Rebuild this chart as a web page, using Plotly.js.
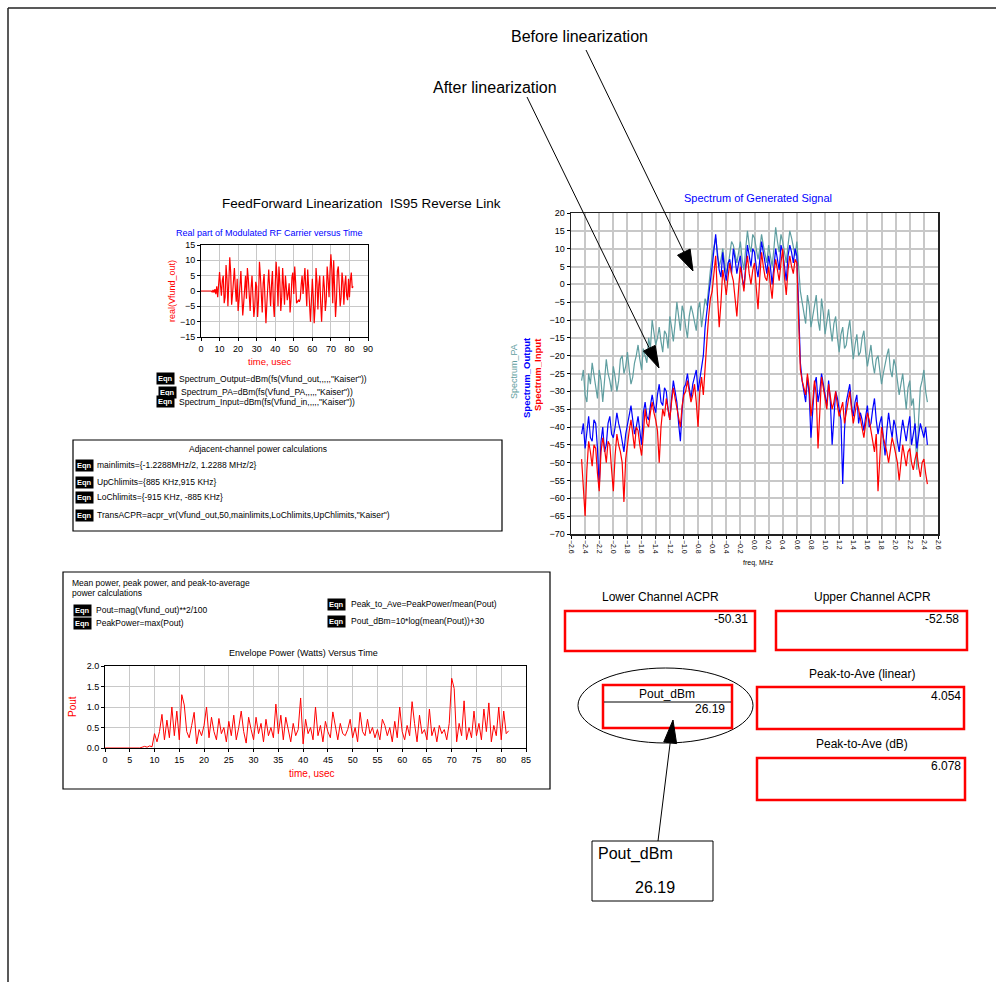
<!DOCTYPE html>
<html><head><meta charset="utf-8">
<script src="https://cdn.plot.ly/plotly-3.0.1.min.js"></script>
<style>html,body{margin:0;padding:0;background:#fff;}#chart{width:996px;height:982px;}</style>
</head><body><div id="chart"></div>
<script>
// ---------- DATA ----------
const realTimeStart = 0, realTimeStep = 0.5;   // usec
const realPart = [
 0,0,0,0,0,0,0,0,0,0,
 0,0,-0.3,0.3,-0.5,0.6,-1.0,1.5,-2.0,2.5,
 6.2,2.0,-1.5,3.5,5.0,-4.0,-2.0,8.5,4.0,-5.0,
 2.0,11.0,6.0,-4.5,-1.0,5.5,7.5,1.0,-3.5,4.0,
 -6.5,-3.0,2.0,6.5,-1.0,-8.0,-4.0,3.0,5.0,-2.5,
 7.5,4.0,-3.0,-6.5,1.0,5.0,-2.0,-8.5,-5.0,3.0,
 1.5,-8.5,-3.0,9.5,5.0,-4.0,-7.0,2.5,5.5,-3.0,
 -10.5,-4.0,4.0,7.0,1.0,-5.0,2.0,6.5,-4.0,-8.5,
 2.0,9.5,4.0,-5.0,8.0,3.0,-6.5,-2.0,7.5,1.0,
 -4.5,5.0,2.0,-3.0,-1.0,2.5,-7.0,-3.0,4.5,6.0,
 -1.0,8.0,3.0,-4.0,-3.5,-3.0,-3.5,-2.5,2.0,5.0,
 -1.0,4.0,7.5,1.0,-5.0,7.0,2.0,-6.0,-10.0,-3.0,
 4.0,-2.0,-10.5,-5.0,7.5,3.0,-6.0,2.0,5.0,-4.0,
 -10.0,-2.0,5.0,1.0,-6.5,-3.0,8.0,4.0,-2.0,6.0,
 12.0,7.0,-4.0,10.0,2.0,-8.5,-3.0,6.5,8.0,1.0,
 -5.0,-2.0,6.0,3.0,-4.5,2.0,5.0,-1.5,-3.0,4.0,
 -2.0,3.5,6.0,1.0,1.5
];
const poutTimeStart = 0, poutTimeStep = 0.5;   // usec
const poutWatts = [
 0,0,0,0,0,0,0,0,0,0,
 0,0,0,0.01,0,0.02,0.04,0.02,0.05,0.03,
 0.35,0.15,0.4,0.82,0.2,0.68,0.25,1.0,0.3,0.9,
 0.2,1.3,1.05,0.4,0.25,0.55,0.87,0.1,0.45,0.3,
 0.55,1.0,0.25,0.75,0.4,0.2,0.72,0.35,0.5,0.15,
 0.65,0.3,0.8,0.2,0.5,0.9,0.4,0.12,0.75,0.45,
 0.2,0.75,0.35,0.6,0.15,0.7,0.3,0.5,0.25,1.07,
 0.35,0.8,0.2,0.75,0.4,0.15,0.6,0.3,0.45,1.22,
 0.1,0.7,0.35,0.5,0.2,1.0,0.3,0.55,0.15,0.65,
 0.4,0.25,0.88,0.5,0.2,0.6,0.35,0.3,0.45,0.7,
 0.25,0.5,0.15,0.87,0.4,0.3,0.7,0.35,0.5,0.25,
 0.45,0.2,0.7,0.55,0.3,0.5,0.15,0.65,0.25,1.0,
 0.4,0.2,0.55,0.3,1.13,0.6,0.15,0.8,0.35,0.45,
 0.2,0.95,0.3,0.5,0.15,0.55,0.35,0.45,0.2,0.6,
 1.7,1.45,0.15,0.6,0.3,1.15,0.2,0.5,0.25,0.9,
 0.3,0.6,0.2,0.95,0.4,1.1,0.15,0.55,0.3,1.0,
 0.2,0.9,0.35,0.42
];
const freqStart = -2.45, freqStep = 0.025;     // MHz
const spectrumPA = [
 -27,-24,-31,-33,-25,-28,-22,-25,-29,-32,-24,-27,-33,-26,-21,-25,-27,-30,-23,-26,
 -30,-27,-21,-20,-25,-23,-19,-24,-28,-26,-22,-20,-17,-21,-24,-18,-20,-22,-15,-18,
 -10,-14,-17,-15,-12,-16,-19,-13,-14,-18,-9,-12,-16,-11,-5,-9,-13,-6,-8,-12,
 -15,-9,-6,-8,-11,-13,-7,-5,-12,-8,-4,-6,0,4,8,11,13,9,5,7,
 10,6,3,5,8,12,11,8,6,9,12,7,4,10,15,11,9,14,13,10,
 7,10,14,11,8,6,11,8,5,10,16,12,9,14,12,9,6,11,15,13,
 10,8,12,6,-2,-5,-8,-11,-3,-6,-12,-9,-5,-3,-10,-13,-4,-8,-14,-11,
 -7,-12,-16,-11,-9,-15,-19,-14,-12,-18,-17,-13,-10,-16,-21,-17,-14,-20,-19,-15,
 -13,-19,-23,-20,-17,-22,-25,-21,-20,-24,-28,-25,-22,-20,-18,-24,-26,-21,-23,-27,
 -31,-28,-25,-30,-35,-29,-27,-34,-32,-40,-52,-38,-29,-27,-24,-30,-33
];
const spectrumOutput = [
 -42,-39,-46,-41,-37,-43,-44,-38,-39,-46,-57,-44,-40,-47,-45,-39,-37,-42,-43,-40,
 -36,-39,-41,-44,-47,-42,-39,-36,-34,-38,-42,-40,-37,-41,-45,-36,-33,-37,-38,-34,
 -31,-34,-36,-31,-28,-33,-34,-29,-30,-35,-38,-32,-27,-30,-33,-39,-44,-35,-29,-28,
 -25,-29,-32,-28,-26,-24,-30,-27,-24,-20,-12,-7,-3,1,5,10,14,8,4,2,
 9,4,1,6,7,3,10,7,3,6,8,2,-1,5,11,8,5,10,9,5,
 2,7,12,9,6,3,8,5,0,6,10,7,4,11,9,5,1,8,11,9,
 6,10,8,-6,-22,-27,-30,-33,-26,-31,-43,-35,-28,-26,-33,-30,-25,-28,-31,-34,
 -27,-33,-45,-36,-30,-32,-35,-38,-56,-41,-33,-30,-28,-34,-37,-33,-31,-39,-36,-38,
 -41,-37,-34,-40,-39,-35,-32,-38,-42,-39,-37,-43,-48,-41,-36,-40,-43,-38,-40,-44,
 -47,-42,-38,-41,-44,-40,-37,-45,-42,-39,-46,-42,-39,-41,-43,-40,-45
];
const spectrumInput = [
 -49,-57,-65,-52,-44,-47,-51,-45,-46,-53,-58,-47,-43,-46,-50,-44,-45,-52,-58,-48,
 -42,-45,-47,-50,-61,-49,-44,-41,-38,-43,-46,-40,-41,-45,-48,-42,-35,-39,-40,-36,
 -33,-36,-38,-41,-50,-40,-35,-37,-32,-35,-38,-33,-29,-32,-35,-38,-40,-34,-31,-30,
 -27,-30,-33,-31,-28,-33,-40,-30,-26,-31,-22,-16,-9,-4,-2,3,8,-3,-12,-5,
 4,1,-3,2,6,3,1,-4,-9,-1,5,2,-2,4,8,3,0,4,6,-1,
 -7,2,9,5,2,1,5,0,-4,3,7,4,1,6,10,2,-3,4,8,5,
 3,7,6,-10,-24,-27,-29,-31,-25,-29,-37,-33,-27,-31,-46,-34,-26,-29,-32,-35,
 -28,-32,-35,-33,-30,-34,-37,-35,-33,-39,-36,-33,-30,-35,-39,-36,-33,-35,-38,-40,
 -43,-39,-36,-38,-41,-44,-47,-42,-58,-49,-40,-43,-45,-47,-50,-46,-43,-45,-48,-50,
 -55,-49,-45,-48,-51,-47,-46,-50,-52,-49,-47,-51,-54,-50,-49,-53,-56
];
const freqTickVals = [-2.6,-2.4,-2.2,-2.0,-1.8,-1.6,-1.4,-1.2,-1.0,-0.8,-0.6,-0.4,-0.2,0,0.2,0.4,0.6,0.8,1.0,1.2,1.4,1.6,1.8,2.0,2.2,2.4,2.6];
const acprLower = '-50.31', acprUpper = '-52.58';
const poutDbm = '26.19', peakToAveLinear = '4.054', peakToAveDb = '6.078';

// ---------- LAYOUT HELPERS ----------
const W = 996, H = 982;
const F = 'Liberation Sans, Arial, sans-serif';
const X = p => p / W, Y = p => 1 - p / H;
const ann = [], shp = [];
function T(x, y, text, o) {
  o = o || {};
  ann.push(Object.assign({
    xref: 'paper', yref: 'paper', x: X(x), y: Y(y), text: text, showarrow: false,
    xanchor: o.xa || 'left', yanchor: 'middle', textangle: o.angle || 0,
    font: {family: F, size: o.size || 9, color: o.color || '#000'}
  }, o.extra || {}));
}
function EQN(x, y) {
  T(x, y, '<b>Eqn</b>', {size: 7.5, color: '#fff', extra: {bgcolor: '#000', borderpad: 1}});
}
function R(x0, y0, x1, y1, color, width) {
  shp.push({type: 'rect', xref: 'paper', yref: 'paper', x0: X(x0), x1: X(x1), y0: Y(y0), y1: Y(y1),
            line: {color: color, width: width}});
}
function L(x0, y0, x1, y1, color, width) {
  shp.push({type: 'line', xref: 'paper', yref: 'paper', x0: X(x0), x1: X(x1), y0: Y(y0), y1: Y(y1),
            line: {color: color || '#000', width: width || 1}});
}
function ARROW(x0, y0, x1, y1, len, hw) {
  const dx = x1 - x0, dy = y1 - y0, d = Math.hypot(dx, dy), ux = dx / d, uy = dy / d;
  const bx = x1 - ux * len, by = y1 - uy * len;
  L(x0, y0, bx, by, '#000', 1);
  const p = [[x1, y1], [bx - uy * hw, by + ux * hw], [bx + uy * hw, by - ux * hw]];
  shp.push({type: 'path', xref: 'paper', yref: 'paper', fillcolor: '#000', line: {color: '#000', width: 1},
    path: 'M' + p.map(q => X(q[0]) + ',' + Y(q[1])).join(' L') + ' Z'});
}

// page frame
L(8, 8, 996, 8, '#222', 1.5);
L(8, 8, 8, 982, '#222', 1.5);

// top annotations and arrows
T(579, 37, 'Before linearization', {xa: 'center', size: 16});
T(495, 87, 'After linearization', {xa: 'center', size: 16});
ARROW(586, 50, 693, 271, 21, 7);
ARROW(527, 97, 659, 368, 22, 6.5);

// main title and small chart texts
T(361, 204, 'FeedForward Linearization \u00a0IS95 Reverse Link', {xa: 'center', size: 13.5});
T(269, 233, 'Real part of Modulated RF Carrier versus Time', {xa: 'center', size: 9, color: '#0000ff'});
T(172, 291, 'real(Vfund_out)', {xa: 'center', size: 9, color: '#ff0000', angle: -90});
T(270, 362, 'time, usec', {xa: 'center', size: 9.5, color: '#ff0000'});

EQN(156, 379); T(177, 379, 'Spectrum_Output=dBm(fs(Vfund_out,,,,,"Kaiser"))', {size: 8.5});
EQN(158, 392); T(179, 392, 'Spectrum_PA=dBm(fs(Vfund_PA,,,,,"Kaiser"))', {size: 8.5});
EQN(156, 402); T(177, 402, 'Spectrum_Input=dBm(fs(Vfund_in,,,,,"Kaiser"))', {size: 8.5});

// adjacent channel box
R(73, 440, 502, 531, '#000', 1.2);
T(258, 449, 'Adjacent-channel power calculations', {xa: 'center', size: 8.5});
EQN(75, 465); T(95, 465, 'mainlimits={-1.2288MHz/2, 1.2288 MHz/2}', {size: 8.5});
EQN(75, 482); T(95, 482, 'UpChlimits={885 KHz,915 KHz}', {size: 8.5});
EQN(75, 497); T(95, 497, 'LoChlimits={-915 KHz, -885 KHz}', {size: 8.5});
EQN(75, 515); T(95, 515, 'TransACPR=acpr_vr(Vfund_out,50,mainlimits,LoChlimits,UpChlimits,"Kaiser")', {size: 8.5});

// power calc box
R(63, 572, 550, 789, '#000', 1.2);
T(70, 583, 'Mean power, peak power, and peak-to-average', {size: 8.5});
T(70, 593, 'power calculations', {size: 8.5});
EQN(73, 610); T(94, 610, 'Pout=mag(Vfund_out)**2/100', {size: 8.5});
EQN(73, 623); T(94, 623, 'PeakPower=max(Pout)', {size: 8.5});
EQN(327, 604); T(349, 604, 'Peak_to_Ave=PeakPower/mean(Pout)', {size: 8.5});
EQN(327, 621); T(349, 621, 'Pout_dBm=10*log(mean(Pout))+30', {size: 8.5});
T(303, 653, 'Envelope Power (Watts) Versus Time', {xa: 'center', size: 9});
T(72, 707, 'Pout', {xa: 'center', size: 10, color: '#ff0000', angle: -90});
T(312, 773, 'time, usec', {xa: 'center', size: 10, color: '#ff0000'});

// spectrum texts
T(758, 198, 'Spectrum of Generated Signal', {xa: 'center', size: 11, color: '#0000ff'});
T(514, 372, 'Spectrum_PA', {xa: 'center', size: 9, color: '#5f9ea0', angle: -90});
T(526, 378, '<b>Spectrum_Output</b>', {xa: 'center', size: 9.5, color: '#0000ff', angle: -90});
T(537, 375, '<b>Spectrum_Input</b>', {xa: 'center', size: 9.5, color: '#ff0000', angle: -90});
T(758, 563, 'freq, MHz', {xa: 'center', size: 7});

// result boxes
T(660, 597, 'Lower Channel ACPR', {xa: 'center', size: 12});
R(565, 611, 755, 651, '#ff0000', 2.5);
T(750, 619, acprLower, {xa: 'right', size: 12});
T(872, 597, 'Upper Channel ACPR', {xa: 'center', size: 12});
R(776, 611, 967, 650, '#ff0000', 2.5);
T(961, 619, acprUpper, {xa: 'right', size: 12});
T(862, 674, 'Peak-to-Ave (linear)', {xa: 'center', size: 12});
R(757, 687, 964, 729, '#ff0000', 2.5);
T(963, 696, peakToAveLinear, {xa: 'right', size: 12});
T(862, 744, 'Peak-to-Ave (dB)', {xa: 'center', size: 12});
R(757, 758, 965, 800, '#ff0000', 2.5);
T(963, 766, peakToAveDb, {xa: 'right', size: 12});

shp.push({type: 'circle', xref: 'paper', yref: 'paper', x0: X(578), x1: X(753), y0: Y(668), y1: Y(743), line: {color: '#000', width: 1}});
R(603, 685, 732, 728, '#ff0000', 2.5);
L(604, 702, 731, 702, '#000', 1);
T(667, 694, 'Pout_dBm', {xa: 'center', size: 12});
T(727, 709, poutDbm, {xa: 'right', size: 12});
ARROW(658, 841, 673, 720, 23, 6.5);
R(592, 841, 713, 901, '#000', 1);
T(596, 854, 'Pout_dBm', {size: 16});
T(633, 887, poutDbm, {size: 16});

// ---------- TRACES ----------
const traces = [
  {type: 'scatter', mode: 'lines', x0: realTimeStart, dx: realTimeStep, y: realPart,
   xaxis: 'x', yaxis: 'y', line: {color: '#ff0000', width: 1.2}},
  {type: 'scatter', mode: 'lines', x0: poutTimeStart, dx: poutTimeStep, y: poutWatts,
   xaxis: 'x2', yaxis: 'y2', line: {color: '#ff0000', width: 1}},
  {type: 'scatter', mode: 'lines', x0: freqStart, dx: freqStep, y: spectrumPA, name: 'Spectrum_PA',
   xaxis: 'x3', yaxis: 'y3', line: {color: '#5f9ea0', width: 1.2}},
  {type: 'scatter', mode: 'lines', x0: freqStart, dx: freqStep, y: spectrumOutput, name: 'Spectrum_Output',
   xaxis: 'x3', yaxis: 'y3', line: {color: '#0000ff', width: 1.2}},
  {type: 'scatter', mode: 'lines', x0: freqStart, dx: freqStep, y: spectrumInput, name: 'Spectrum_Input',
   xaxis: 'x3', yaxis: 'y3', line: {color: '#ff0000', width: 1.2}}
];

function ax(o) {
  return Object.assign({
    showgrid: true, gridcolor: '#c8c8c8', gridwidth: 1, zeroline: false,
    showline: true, linecolor: '#000', linewidth: 1, mirror: true,
    ticks: 'outside', ticklen: 3, tickcolor: '#000',
    tickfont: {family: F, size: 9, color: '#000'}, fixedrange: true
  }, o);
}

const layout = {
  width: W, height: H, margin: {l: 0, r: 0, t: 0, b: 0},
  paper_bgcolor: '#fff', plot_bgcolor: '#fff', showlegend: false,
  xaxis: ax({domain: [X(201), X(368)], anchor: 'y', range: [0, 90], dtick: 10, tick0: 0}),
  yaxis: ax({domain: [Y(337), Y(245)], anchor: 'x', range: [-15, 15], dtick: 5, tick0: -15}),
  xaxis2: ax({domain: [X(105), X(526)], anchor: 'y2', range: [0, 85], dtick: 5, tick0: 0}),
  yaxis2: ax({domain: [Y(748), Y(666)], anchor: 'x2', range: [0, 2], dtick: 0.5, tick0: 0, tickformat: '.1f'}),
  xaxis3: ax({domain: [X(571), X(938)], anchor: 'y3', range: [-2.6, 2.6], tickvals: freqTickVals,
              tickformat: '.1f', tickangle: 90, gridwidth: 2, linecolor: '#222', linewidth: 1.5,
              tickfont: {family: F, size: 7, color: '#000'}}),
  yaxis3: ax({domain: [Y(534), Y(213)], anchor: 'x3', range: [-70, 20], dtick: 5, tick0: -70,
              gridwidth: 2, linecolor: '#222', linewidth: 1.5}),
  annotations: ann, shapes: shp
};

Plotly.newPlot('chart', traces, layout, {displayModeBar: false, staticPlot: true});
</script>
</body></html>
